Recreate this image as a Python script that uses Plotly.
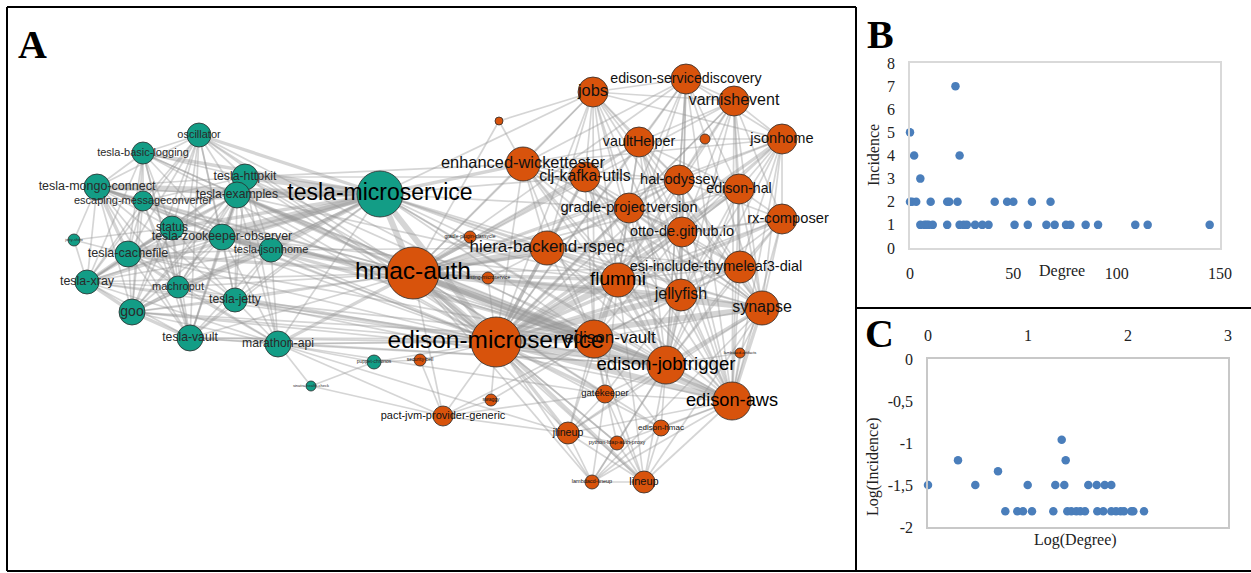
import plotly.graph_objects as go

W, H = 1251, 573

# ---------------- Panel A : network ----------------
node_ids = ["OSC", "TBL", "TMC", "EMC", "THK", "TEX", "STA", "TZO", "TJH", "JSH",
            "TCF", "TXR", "MAC", "TJE", "GOO", "TVA", "MAR", "TMS", "PCH", "SHC",
            "HMA", "EMS", "EWT", "GPC", "HBR", "TMI", "TOP", "SBE", "JOB", "ESD",
            "VAR", "VHE", "TN2", "JHO", "CKU", "HOD", "EHA", "GPV", "RXC", "OTT",
            "ESI", "FLU", "JEL", "SYN", "EVA", "EJT", "TN3", "EAW", "GAT", "JLI",
            "EHM", "PLA", "LCL", "LIN", "PJV", "SWA"]
node_labels = ["oscillator", "tesla-basic-logging", "tesla-mongo-connect", "escaping-messageconverter",
               "tesla-httpkit", "tesla-examples", "status", "tesla-zookeeper-observer", "tesla-jsonhome",
               "jetty-shiro", "tesla-cachefile", "tesla-xray", "machroput", "tesla-jetty", "goo",
               "tesla-vault", "marathon-api", "tesla-microservice", "puppet-chronos", "sinatra-health-check",
               "hmac-auth", "edison-microservice", "enhanced-wickettester", "gradle-plugin-classycle",
               "hiera-backend-rspec", "testing-microservice", "", "security-bell", "jobs",
               "edison-servicediscovery", "varnishevent", "vaultHelper", "", "jsonhome", "clj-kafka-utils",
               "hal-odyssey", "edison-hal", "gradle-projectversion", "rx-composer", "otto-de.github.io",
               "esi-include-thymeleaf3-dial", "flummi", "jellyfish", "synapse", "edison-vault",
               "edison-jobtrigger", "lambdacd-artifacts", "edison-aws", "gatekeeper", "jlineup",
               "edison-hmac", "python-ldap-auth-proxy", "lambdacd-lineup", "lineup",
               "pact-jvm-provider-generic", "swaggy"]
node_group = ["tesla"] * 20 + ["edison"] * 36
node_x = [199, 143, 97, 143, 245, 237, 172, 222, 271, 74,
          128, 87, 178, 235, 132, 190, 278, 380, 374, 311,
          413, 496, 523, 470, 547, 488, 499, 420, 593, 686,
          734, 639, 705, 782, 585, 679, 739, 629, 782, 682,
          740, 618, 681, 762, 594, 666, 740, 732, 605, 568,
          661, 617, 592, 644, 443, 491]
node_y = [135, 153, 187, 201, 177, 195, 228, 237, 250, 240,
          254, 282, 287, 300, 312, 338, 344, 194, 362, 386,
          273, 342, 164, 237, 248, 278, 121, 360, 92, 79,
          101, 142, 139, 139, 177, 180, 189, 208, 219, 232,
          267, 280, 295, 308, 339, 365, 353, 401, 394, 433,
          428, 443, 482, 482, 416, 400]
node_size = [24, 22, 26, 20, 26, 26, 24, 26, 24, 12,
             26, 24, 22, 24, 26, 26, 26, 46, 14, 10,
             52, 50, 34, 12, 34, 12, 8, 12, 30, 30,
             30, 30, 10, 30, 30, 30, 30, 30, 30, 30,
             32, 34, 32, 34, 38, 38, 10, 38, 18, 22,
             16, 14, 14, 22, 20, 12]
label_size = [11, 11, 12.5, 11, 12.3, 12.2, 12, 12.4, 11, 4,
              12.6, 12.5, 11, 12.1, 14, 12.2, 12.2, 23, 5, 4,
              24.5, 24.4, 16.4, 5, 17, 5, 4, 5, 16.4, 14.2,
              16, 14.3, 4, 14.6, 15.8, 14.6, 14.2, 14.7, 14.7, 14.5,
              14.5, 19, 16, 16, 17, 18.7, 4, 18.2, 9.5, 10.6,
              8, 5.5, 5.5, 11, 11, 5]
label_dx = {"EVA": 16, "RXC": 6, "ESI": -24}

adjacency = {
    "OSC": ["TBL", "TMC", "EMC", "THK", "TEX", "STA", "TZO", "TCF", "TXR", "GOO", "TVA", "TJE", "MAC", "HMA", "EMS", "EVA"],
    "TBL": ["TMC", "EMC", "THK", "TEX", "STA", "TZO", "TCF", "TXR", "GOO", "MAC", "TVA", "HMA", "EMS"],
    "TMC": ["EMC", "THK", "TEX", "STA", "TZO", "TJH", "TCF", "TXR", "GOO", "MAC", "TJE", "TVA", "HMA", "EMS", "EVA", "EJT"],
    "EMC": ["THK", "TEX", "STA", "TZO", "TCF", "TXR", "GOO", "TVA", "MAC", "HMA"],
    "THK": ["TEX", "STA", "TZO", "TJH", "TCF", "TXR", "GOO", "MAC", "TJE", "TVA", "MAR", "HMA", "EMS", "EWT", "EJT", "CKU"],
    "TEX": ["STA", "TZO", "TJH", "TCF", "TXR", "GOO", "MAC", "TJE", "TVA", "MAR", "HMA", "EMS", "EVA", "FLU", "EJT"],
    "STA": ["TZO", "TJH", "TCF", "TXR", "GOO", "MAC", "TJE", "TVA", "JSH", "HMA", "EMS"],
    "TZO": ["TJH", "TCF", "TXR", "GOO", "MAC", "TJE", "TVA", "MAR", "HMA", "EMS", "EVA", "FLU"],
    "TJH": ["TCF", "TXR", "GOO", "MAC", "TJE", "TVA", "MAR", "HMA", "EMS", "HBR"],
    "JSH": ["TCF", "TXR", "TMC"],
    "TCF": ["TXR", "GOO", "MAC", "TJE", "TVA", "MAR", "HMA", "EMS", "EVA"],
    "TXR": ["GOO", "MAC", "TJE", "TVA", "MAR", "HMA", "EMS"],
    "MAC": ["GOO", "TJE", "TVA", "MAR", "HMA", "EMS"],
    "TJE": ["GOO", "TVA", "MAR", "HMA", "EMS", "EVA", "EJT", "EAW"],
    "GOO": ["TVA", "MAR", "HMA", "EMS", "EVA", "EJT"],
    "TVA": ["MAR", "HMA", "EMS", "EJT", "EVA"],
    "MAR": ["HMA", "EMS", "PCH", "SHC", "PJV", "EVA", "EJT", "GAT", "JLI"],
    "PCH": ["SHC", "SBE", "EMS"],
    "SHC": ["PJV"],
    "TMS": ["OSC", "TBL", "TMC", "EMC", "THK", "TEX", "STA", "TZO", "TJH", "TCF", "TXR", "MAC", "TJE",
            "GOO", "TVA", "MAR", "HMA", "EMS", "EWT", "HBR", "CKU", "FLU", "EVA", "JOB", "GPV", "SYN",
            "EAW", "GPC", "EJT", "JEL"],
    "HMA": ["EMS", "EWT", "HBR", "CKU", "GPV", "FLU", "JEL", "SYN", "EVA", "EJT", "EAW", "JOB", "VHE",
            "OTT", "ESI", "HOD", "GAT", "JLI", "TMI", "GPC", "PJV", "RXC", "EHA", "LIN", "TOP",
            "ESD", "VAR", "JHO", "EHM", "PLA", "LCL"],
    "EMS": ["EWT", "HBR", "CKU", "GPV", "FLU", "JEL", "SYN", "EVA", "EJT", "EAW", "JOB", "VHE", "OTT",
            "ESI", "HOD", "EHA", "RXC", "JHO", "VAR", "ESD", "GAT", "JLI", "EHM", "PLA", "LCL", "LIN",
            "PJV", "SWA", "SBE", "TMI"],
    "EWT": ["JOB", "CKU", "VHE", "GPV", "HBR", "FLU", "EVA", "EJT", "OTT", "HOD", "TOP", "JHO", "SYN", "EAW", "ESD", "JEL"],
    "HBR": ["CKU", "GPV", "FLU", "JEL", "EVA", "EJT", "OTT", "ESI", "SYN", "EAW", "GPC", "TMI", "JOB", "HOD"],
    "JOB": ["ESD", "VAR", "VHE", "CKU", "HOD", "GPV", "OTT", "JHO", "FLU", "EVA", "EJT", "SYN", "TOP", "EAW"],
    "ESD": ["VAR", "VHE", "HOD", "EHA", "JHO", "OTT", "FLU", "JEL", "EJT", "EAW", "GPV", "SYN"],
    "VAR": ["VHE", "JHO", "HOD", "EHA", "RXC", "OTT", "GPV", "ESI", "SYN", "EJT", "EAW", "FLU"],
    "VHE": ["CKU", "HOD", "GPV", "OTT", "EHA", "JEL", "FLU", "EJT", "EAW", "TN2", "SYN"],
    "JHO": ["EHA", "RXC", "HOD", "OTT", "ESI", "SYN", "EAW", "JEL", "FLU", "TN2", "EJT"],
    "CKU": ["GPV", "HOD", "OTT", "FLU", "JEL", "EVA", "EJT", "SYN", "EAW"],
    "HOD": ["EHA", "GPV", "OTT", "RXC", "ESI", "FLU", "JEL", "SYN", "EJT", "EAW", "TN2"],
    "EHA": ["RXC", "OTT", "ESI", "SYN", "EAW", "JEL", "EJT", "FLU"],
    "GPV": ["OTT", "FLU", "JEL", "ESI", "EVA", "EJT", "EAW", "SYN"],
    "RXC": ["OTT", "ESI", "SYN", "EAW", "JEL", "EJT", "FLU"],
    "OTT": ["ESI", "FLU", "JEL", "SYN", "EVA", "EJT", "EAW"],
    "ESI": ["FLU", "JEL", "SYN", "EJT", "EAW", "EVA"],
    "FLU": ["JEL", "SYN", "EVA", "EJT", "EAW", "GAT", "JLI", "LIN"],
    "JEL": ["SYN", "EVA", "EJT", "EAW", "GAT"],
    "SYN": ["EVA", "EJT", "EAW", "TN3", "LIN", "JLI", "LCL"],
    "EVA": ["EJT", "EAW", "GAT", "JLI", "EHM", "LIN", "PJV", "SWA", "PLA"],
    "EJT": ["EAW", "GAT", "JLI", "EHM", "PLA", "LIN", "LCL", "TN3"],
    "EAW": ["GAT", "JLI", "EHM", "LIN", "LCL", "PLA", "TN3"],
    "GAT": ["JLI", "LIN", "LCL"],
    "JLI": ["LCL", "LIN", "PLA", "PJV"],
    "EHM": ["LIN", "LCL"],
    "LCL": ["LIN", "PLA"],
    "PLA": ["LIN"],
    "PJV": ["SWA", "SBE", "GAT"],
}
heavy_edges = [("TMS", "HMA"), ("TMS", "EMS"), ("HMA", "EMS"), ("HMA", "EVA"), ("EMS", "EVA"),
               ("EMS", "EJT"), ("EMS", "EAW"), ("HMA", "EJT"), ("EMS", "FLU"), ("HMA", "HBR"),
               ("TMS", "THK"), ("TMS", "TEX"), ("TMS", "TZO"), ("TMS", "TMC"), ("TMS", "TCF"),
               ("EMS", "SYN"), ("EMS", "JEL"), ("HMA", "EAW"), ("HMA", "SYN")]
medium_edges = [("TMS", "OSC"), ("TMS", "TBL"), ("TMS", "STA"), ("TMS", "TJH"), ("TMS", "GOO"),
                ("TMS", "TXR"), ("TMS", "EWT"), ("HMA", "FLU"), ("HMA", "JEL"), ("EMS", "HBR"),
                ("EMS", "OTT"), ("EMS", "GPV"), ("EMS", "CKU"), ("EVA", "EJT"), ("EJT", "EAW"),
                ("EVA", "EAW"), ("FLU", "EJT"), ("EMS", "EHA"), ("EMS", "ESI"), ("HMA", "TEX"),
                ("HMA", "TZO"), ("HMA", "TCF"), ("THK", "TEX"), ("TEX", "TZO"), ("TCF", "TXR"),
                ("EJT", "SYN"), ("SYN", "EAW"), ("EMS", "JLI"), ("EMS", "GAT"), ("TMC", "TCF"),
                ("TXR", "GOO"), ("GOO", "TVA"), ("HMA", "GPV"), ("HMA", "CKU"), ("HMA", "OTT"),
                ("EMS", "RXC"), ("EMS", "JHO"), ("JEL", "EJT"), ("FLU", "EVA"), ("TEX", "EVA"),
                ("TZO", "EVA"), ("HMA", "TJH"), ("HMA", "MAR"), ("EMS", "LIN")]

# ---------------- Panel B : degree vs incidence ----------------
degree_b = [0, 22, 24, 2, 5,
            0, 1, 3, 10, 18, 19, 23, 41, 47, 50, 59, 68,
            5, 7, 8, 9, 11, 18, 24, 26, 27.5, 31.5, 35, 38, 50.6, 57, 66, 70, 75.5, 77.6, 85, 91, 109, 115, 145]
incidence_b = [5, 7, 4, 4, 3,
               2, 2, 2, 2, 2, 2, 2, 2, 2, 2, 2, 2,
               1, 1, 1, 1, 1, 1, 1, 1, 1, 1, 1, 1, 1, 1, 1, 1, 1, 1, 1, 1, 1, 1, 1]

# ---------------- Panel C : log-log ----------------
log_degree_c = [0, 0.473, 0.997, 1.273, 1.363, 1.603, 1.687, 1.767, 1.833,
                0.30, 1.377, 0.70, 1.337,
                0.773, 0.893, 0.95, 1.04, 1.253, 1.393, 1.433, 1.483, 1.523, 1.57,
                1.693, 1.753, 1.833, 1.88, 1.927, 1.96, 2.033, 2.053, 2.16]
log_incidence_c = [-1.5, -1.5, -1.5, -1.5, -1.5, -1.5, -1.5, -1.5, -1.5,
                   -1.206, -1.206, -1.337, -0.96,
                   -1.813, -1.813, -1.813, -1.813, -1.813, -1.813, -1.813, -1.813, -1.813, -1.813,
                   -1.813, -1.813, -1.813, -1.813, -1.813, -1.813, -1.813, -1.813, -1.813]
c_yticks = [0, -0.5, -1, -1.5, -2]
c_yticktext = ["0", "-0,5", "-1", "-1,5", "-2"]

# ---------------- build figure ----------------
TEAL = "#139d86"
ORANGE = "#d8530c"
DOT = "#4a7ebb"
SERIF = "Liberation Serif, Times New Roman, serif"
SANS = "Liberation Sans, Arial, sans-serif"

pos = {n: (x, y) for n, x, y in zip(node_ids, node_x, node_y)}
weights = {}
for a, nbrs in adjacency.items():
    for b in nbrs:
        weights[tuple(sorted((a, b)))] = 1.7
for a, b in medium_edges:
    weights[tuple(sorted((a, b)))] = 3.4
for a, b in heavy_edges:
    weights[tuple(sorted((a, b)))] = 6.0

fig = go.Figure()
for (a, b), w in weights.items():
    fig.add_trace(go.Scatter(
        x=[pos[a][0], pos[b][0]], y=[pos[a][1], pos[b][1]], mode="lines",
        line=dict(color="rgba(150,150,150,0.40)", width=w),
        hoverinfo="skip", showlegend=False, xaxis="x", yaxis="y"))

fig.add_trace(go.Scatter(
    x=node_x, y=node_y, mode="markers",
    marker=dict(size=node_size, color=[TEAL if g == "tesla" else ORANGE for g in node_group],
                line=dict(color="#2b2b2b", width=0.8), opacity=1),
    hoverinfo="text", text=node_labels, showlegend=False, xaxis="x", yaxis="y"))

fig.add_trace(go.Scatter(
    x=[x + label_dx.get(n, 0) for n, x in zip(node_ids, node_x)], y=node_y, mode="text",
    text=node_labels, textposition="middle center",
    textfont=dict(family=SANS, size=label_size,
                  color=["#000000" if s >= 18 else ("#2a2a2a" if g == "tesla" else "#111111")
                         for s, g in zip(label_size, node_group)]),
    hoverinfo="skip", showlegend=False, xaxis="x", yaxis="y"))

fig.add_trace(go.Scatter(
    x=degree_b, y=incidence_b, mode="markers", cliponaxis=False,
    marker=dict(size=8.5, color=DOT), showlegend=False, xaxis="x2", yaxis="y2"))

fig.add_trace(go.Scatter(
    x=log_degree_c, y=log_incidence_c, mode="markers", cliponaxis=False,
    marker=dict(size=8.5, color=DOT), showlegend=False, xaxis="x3", yaxis="y3"))


def fx(p):
    return p / W


def fy(p):
    return 1 - p / H


tick_font = dict(family=SERIF, size=16, color="#222222")
box_common = dict(showgrid=False, zeroline=False, showline=True, mirror=True, ticks="",
                  tickfont=tick_font, ticklabelstandoff=10, automargin=False)

fig.update_layout(
    width=W, height=H, autosize=False,
    margin=dict(l=0, r=0, t=0, b=0, pad=0, autoexpand=False),
    paper_bgcolor="white", plot_bgcolor="white", showlegend=False,
    xaxis=dict(domain=[fx(7), fx(856)], range=[7, 856], visible=False, fixedrange=True),
    yaxis=dict(domain=[fy(571), fy(7)], range=[571, 7], visible=False, fixedrange=True),
    xaxis2=dict(domain=[fx(910), fx(1220)], range=[0, 150], tickvals=[0, 50, 100, 150],
                anchor="y2", linecolor="#d9d9d9", linewidth=1.5, **box_common),
    yaxis2=dict(domain=[fy(248), fy(63)], range=[0, 8], dtick=1,
                anchor="x2", linecolor="#d9d9d9", linewidth=1.5, **box_common),
    xaxis3=dict(domain=[fx(928), fx(1228)], range=[0, 3], tickvals=[0, 1, 2, 3], side="top",
                anchor="y3", linecolor="#c8c8c8", linewidth=1.5, **box_common),
    yaxis3=dict(domain=[fy(527), fy(359)], range=[-2, 0], tickvals=c_yticks, ticktext=c_yticktext,
                anchor="x3", linecolor="#c8c8c8", linewidth=1.5, **box_common),
)

line_style = dict(color="black", width=2)
fig.add_shape(type="line", xref="paper", yref="paper", x0=fx(7), x1=fx(7), y0=fy(7), y1=fy(571), line=line_style)
fig.add_shape(type="line", xref="paper", yref="paper", x0=fx(7), x1=fx(856), y0=fy(7), y1=fy(7), line=line_style)
fig.add_shape(type="line", xref="paper", yref="paper", x0=fx(856), x1=fx(856), y0=fy(7), y1=fy(571), line=line_style)
fig.add_shape(type="line", xref="paper", yref="paper", x0=fx(7), x1=1, y0=fy(571), y1=fy(571), line=line_style)
fig.add_shape(type="line", xref="paper", yref="paper", x0=fx(856), x1=1, y0=fy(308), y1=fy(308), line=line_style)

letter_font = dict(family=SERIF, size=40, color="black")
for txt, x, y in [("<b>A</b>", 32, 44), ("<b>B</b>", 880, 35), ("<b>C</b>", 879, 333)]:
    fig.add_annotation(text=txt, x=fx(x), y=fy(y), xref="paper", yref="paper",
                       showarrow=False, font=letter_font, xanchor="center", yanchor="middle")

title_font = dict(family=SERIF, size=16, color="#222222")
fig.add_annotation(text="Degree", x=fx(1062), y=fy(271), xref="paper", yref="paper",
                   showarrow=False, font=title_font, xanchor="center", yanchor="middle")
fig.add_annotation(text="Incidence", x=fx(873), y=fy(155), xref="paper", yref="paper",
                   showarrow=False, font=title_font, textangle=-90, xanchor="center", yanchor="middle")
fig.add_annotation(text="Log(Degree)", x=fx(1075), y=fy(540), xref="paper", yref="paper",
                   showarrow=False, font=title_font, xanchor="center", yanchor="middle")
fig.add_annotation(text="Log(Incidence)", x=fx(873), y=fy(467), xref="paper", yref="paper",
                   showarrow=False, font=title_font, textangle=-90, xanchor="center", yanchor="middle")

fig.write_html("out.html", config={"displayModeBar": False},
               post_script="document.body.style.margin='0';")
